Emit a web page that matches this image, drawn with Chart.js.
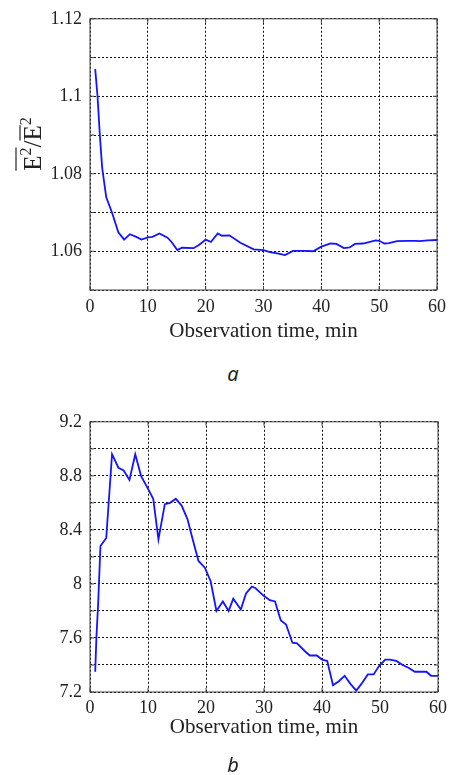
<!DOCTYPE html>
<html>
<head>
<meta charset="utf-8">
<script src="https://cdn.jsdelivr.net/npm/chart.js@4/dist/chart.umd.min.js"></script>
<style>
  html, body { margin: 0; padding: 0; background: #fff; }
  #wrap { position: relative; width: 452px; height: 775px; overflow: hidden; }
  canvas { position: absolute; left: 0; }
  .cap { position: absolute; font-family: 'Noto Sans', sans-serif; font-style: italic; font-size: 20px; line-height: 20px; color: #222; transform: translateX(-50%); }
</style>
</head>
<body>
<div id="wrap">
  <canvas id="chartA" width="452" height="350" style="top:0"></canvas>
  <div class="cap" style="left:233px; top:364px">a</div>
  <canvas id="chartB" width="452" height="350" style="top:403px"></canvas>
  <div class="cap" style="left:233px; top:755px">b</div>
</div>
<script>
// panel a: ratio vs observation time
const timesA = [0.9, 1.3, 1.7, 2.1, 2.8, 3.8, 4.9, 5.9, 6.9, 8, 8.9, 10, 10.8, 12, 13.4, 14.1, 15.1, 15.9, 17.9, 18.9, 20, 20.9, 22.1, 22.8, 24.1, 26, 28.3, 30, 31.1, 32.6, 33.7, 35.1, 37.1, 38.6, 40, 41.6, 42.6, 43.9, 44.9, 45.8, 47.2, 49.4, 50, 50.9, 51.7, 53.1, 54.9, 56.3, 57, 58.4, 60];
const valuesA = [1.107, 1.100, 1.090, 1.0816, 1.074, 1.070, 1.0649, 1.0630, 1.0644, 1.0637, 1.0630, 1.0636, 1.0637, 1.0646, 1.0635, 1.0624, 1.0603, 1.0609, 1.0608, 1.0617, 1.0630, 1.0624, 1.0646, 1.0640, 1.0641, 1.0622, 1.0605, 1.0603, 1.0598, 1.0594, 1.0590, 1.0601, 1.0601, 1.0600, 1.0612, 1.0620, 1.0619, 1.0608, 1.0610, 1.0619, 1.0620, 1.0628, 1.0627, 1.0620, 1.0621, 1.0626, 1.0627, 1.0627, 1.0626, 1.0628, 1.0629];
const yLabelsA = [1.06, 1.08, 1.1, 1.12];

// panel b: mean square vs observation time
const timesB = [0.9, 1.1, 1.4, 1.8, 2.8, 3.8, 4.9, 5.8, 6.8, 7.8, 8.8, 9.8, 10.9, 11.8, 12.9, 13.8, 14.8, 15.8, 16.8, 17.7, 18.7, 19.8, 20.8, 21.8, 22.9, 23.9, 24.7, 26, 26.9, 27.9, 28.5, 30, 31, 31.9, 32.9, 33.8, 34.9, 35.7, 37.1, 37.9, 39.1, 40, 40.9, 41.9, 42.9, 43.9, 44.9, 45.9, 46.8, 47.9, 48.9, 49.8, 50.9, 51.7, 52.8, 53.9, 54.9, 56, 57, 58, 58.8, 60];
const valuesB = [7.35, 7.60, 7.85, 8.28, 8.34, 8.96, 8.86, 8.84, 8.77, 8.96, 8.80, 8.72, 8.63, 8.33, 8.59, 8.60, 8.63, 8.58, 8.48, 8.33, 8.17, 8.12, 8.02, 7.80, 7.87, 7.80, 7.89, 7.81, 7.93, 7.98, 7.97, 7.91, 7.88, 7.87, 7.73, 7.70, 7.565, 7.56, 7.50, 7.47, 7.47, 7.44, 7.43, 7.25, 7.28, 7.32, 7.26, 7.21, 7.26, 7.33, 7.33, 7.39, 7.44, 7.44, 7.43, 7.40, 7.38, 7.35, 7.35, 7.35, 7.32, 7.32];
const yLabelsB = [7.2, 7.6, 8, 8.4, 8.8, 9.2];

const xTicks = [0, 10, 20, 30, 40, 50, 60];
const xTitle = 'Observation time, min';

const SERIF = "'Liberation Serif', 'DejaVu Serif', serif";

// y-axis label with overlines, drawn rotated
const overLabel = {
    id: 'overLabel',
    afterDraw(chart, args, opts) {
        const ctx = chart.ctx;
        const main = '25px ' + SERIF;
        const small = '16px ' + SERIF;
        ctx.save();
        ctx.translate(opts.x, opts.y);
        ctx.rotate(-Math.PI / 2);
        ctx.fillStyle = '#222';
        ctx.strokeStyle = '#222';
        ctx.lineWidth = 1.2;
        ctx.textBaseline = 'alphabetic';
        let total = 0;
        const widths = opts.parts.map(p => {
            ctx.font = p.sup ? small : main;
            const w = ctx.measureText(p.text).width;
            total += w;
            return w;
        });
        let x = -total / 2;
        opts.parts.forEach((p, i) => {
            ctx.font = p.sup ? small : main;
            ctx.fillText(p.text, x, p.sup ? -opts.rise : 0);
            if (p.over) {
                ctx.beginPath();
                ctx.moveTo(x, -p.over);
                ctx.lineTo(x + widths[i], -p.over);
                ctx.stroke();
            }
            x += widths[i];
        });
        ctx.restore();
    }
};

// box frame and short inward ticks
const frame = {
    id: 'frame',
    afterDraw(chart) {
        const {ctx, chartArea: a, scales} = chart;
        ctx.save();
        ctx.strokeStyle = '#444';
        ctx.lineWidth = 1;
        ctx.strokeRect(a.left, a.top, a.right - a.left, a.bottom - a.top);
        ctx.beginPath();
        scales.y.ticks.forEach(t => {
            const py = scales.y.getPixelForValue(t.value);
            ctx.moveTo(a.left, py); ctx.lineTo(a.left + 4, py);
            ctx.moveTo(a.right, py); ctx.lineTo(a.right - 4, py);
        });
        scales.x.ticks.forEach(t => {
            const px = scales.x.getPixelForValue(t.value);
            ctx.moveTo(px, a.bottom); ctx.lineTo(px, a.bottom - 4);
            ctx.moveTo(px, a.top); ctx.lineTo(px, a.top + 4);
        });
        ctx.stroke();
        ctx.restore();
    }
};

const gridDash = () => [2, 2];

function makeChart(id, xs, ys, yMin, yMax, yStep, yLabels, cfg) {
    return new Chart(document.getElementById(id), {
        type: 'line',
        data: {
            datasets: [{
                data: xs.map((t, i) => ({x: t, y: ys[i]})),
                borderColor: '#1414ff',
                borderWidth: 1.8,
                pointRadius: 0,
                tension: 0,
                fill: false
            }]
        },
        options: {
            responsive: false,
            animation: false,
            layout: {padding: {top: 15, right: 12, left: 0, bottom: 0}},
            plugins: {
                legend: {display: false},
                tooltip: {enabled: false},
                overLabel: cfg.label
            },
            scales: {
                x: {
                    type: 'linear',
                    min: 0,
                    max: 60,
                    afterBuildTicks: s => { s.ticks = xTicks.map(v => ({value: v})); },
                    afterFit: s => { s.height = cfg.xHeight; },
                    grid: {color: '#111', lineWidth: 1, drawTicks: false},
                    border: {display: false, dash: gridDash},
                    ticks: {
                        padding: cfg.xPad,
                        color: '#222',
                        maxRotation: 0,
                        font: {family: SERIF, size: 18}
                    },
                    title: {
                        display: true,
                        text: xTitle,
                        color: '#222',
                        font: {family: SERIF, size: 21},
                        padding: {top: 0, bottom: cfg.titlePad}
                    }
                },
                y: {
                    min: yMin,
                    max: yMax,
                    ticks: {
                        stepSize: yStep,
                        padding: 8,
                        color: '#222',
                        font: {family: SERIF, size: 18},
                        callback: v => {
                            const hit = yLabels.find(l => Math.abs(l - v) < 1e-6);
                            return hit === undefined ? '' : String(hit);
                        }
                    },
                    afterFit: s => { s.width = 90; },
                    grid: {color: '#111', lineWidth: 1, drawTicks: false},
                    border: {display: false, dash: gridDash}
                }
            }
        },
        plugins: [overLabel, frame]
    });
}

makeChart('chartA', timesA, valuesA, 1.05, 1.12, 0.01, yLabelsA, {
    xHeight: 60, xPad: 6, titlePad: 6,
    label: {
        x: 41, y: 144, rise: 10,
        parts: [
            {text: 'E', over: 25}, {text: '2', sup: true, over: 25},
            {text: '/'},
            {text: 'E', over: 21}, {text: '2', sup: true}
        ]
    }
});

makeChart('chartB', timesB, valuesB, 7.2, 9.2, 0.2, yLabelsB, {
    xHeight: 61, xPad: 5, titlePad: 13,
    label: {
        x: 51, y: 551, rise: 10,
        parts: [
            {text: 'E', over: 24}, {text: '2', sup: true, over: 24},
            {text: '\u00b7'}, {text: '10'}, {text: '-4', sup: true}
        ]
    }
});
</script>
</body>
</html>
